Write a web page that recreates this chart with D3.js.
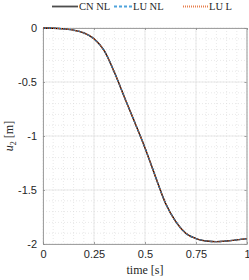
<!DOCTYPE html>
<html>
<head>
<meta charset="utf-8">
<script src="https://cdn.jsdelivr.net/npm/d3@7"></script>
<style>
  body { margin: 0; background: #fff; }
  svg { display: block; }
</style>
</head>
<body>
<div id="chart"></div>
<script>
// time samples and displacement u2
const time = [0, 0.05, 0.1, 0.15, 0.2, 0.25, 0.3, 0.35, 0.4, 0.45, 0.5,
              0.55, 0.6, 0.65, 0.7, 0.75, 0.8, 0.85, 0.9, 0.95, 1.0];
const cnNL = [0, -0.002, -0.008, -0.02, -0.045, -0.1, -0.21, -0.41, -0.645, -0.875, -1.11,
              -1.37, -1.62, -1.79, -1.90, -1.95, -1.972, -1.978, -1.972, -1.962, -1.95];
const luNL = cnNL.slice();
const luL = cnNL.slice();

const seriesNames = ['CN NL', 'LU NL', 'LU L'];
const xTicks = [0, 0.25, 0.5, 0.75, 1];
const xTickLabels = ['0', '0.25', '0.5', '0.75', '1'];
const yTicks = [0, -0.5, -1, -1.5, -2];
const yTickLabels = ['0', '-0.5', '-1', '-1.5', '-2'];

const width = 249, height = 280;
const margin = { top: 28, right: 2, bottom: 36, left: 43 };

const svg = d3.select('#chart').append('svg')
    .attr('width', width)
    .attr('height', height);

const x = d3.scaleLinear().domain([0, 1]).range([margin.left, width - margin.right]);
const y = d3.scaleLinear().domain([-2, 0]).range([height - margin.bottom, margin.top]);

// minor grid (dotted)
const xMinor = d3.range(0, 1.0001, 0.05);
const yMinor = d3.range(-2, 0.0001, 0.1);
svg.append('g').selectAll('line')
    .data(xMinor).enter().append('line')
    .attr('x1', d => x(d)).attr('x2', d => x(d))
    .attr('y1', y(0)).attr('y2', y(-2))
    .style('stroke', '#d9d9d9').style('stroke-width', 0.6)
    .style('stroke-dasharray', '1,2');
svg.append('g').selectAll('line')
    .data(yMinor).enter().append('line')
    .attr('x1', x(0)).attr('x2', x(1))
    .attr('y1', d => y(d)).attr('y2', d => y(d))
    .style('stroke', '#d9d9d9').style('stroke-width', 0.6)
    .style('stroke-dasharray', '1,2');

// major grid
svg.append('g').selectAll('line')
    .data(xTicks).enter().append('line')
    .attr('x1', d => x(d)).attr('x2', d => x(d))
    .attr('y1', y(0)).attr('y2', y(-2))
    .style('stroke', '#e3e3e3').style('stroke-width', 0.8);
svg.append('g').selectAll('line')
    .data(yTicks).enter().append('line')
    .attr('x1', x(0)).attr('x2', x(1))
    .attr('y1', d => y(d)).attr('y2', d => y(d))
    .style('stroke', '#e3e3e3').style('stroke-width', 0.8);

// axes
const tickFont = '"Liberation Sans", Arial, sans-serif';
const xAxis = svg.append('g')
    .attr('transform', `translate(0,${y(-2)})`)
    .call(d3.axisBottom(x).tickValues(xTicks).tickFormat((d, i) => xTickLabels[i])
        .tickSizeInner(-2).tickSizeOuter(0).tickPadding(6));
const yAxis = svg.append('g')
    .attr('transform', `translate(${x(0)},0)`)
    .call(d3.axisLeft(y).tickValues(yTicks).tickFormat((d, i) => yTickLabels[i])
        .tickSizeInner(-2).tickSizeOuter(0).tickPadding(6));
const yAxisR = svg.append('g')
    .attr('transform', `translate(${x(1) - 0.5},0)`)
    .call(d3.axisRight(y).tickValues(yTicks).tickFormat('')
        .tickSizeInner(-2).tickSizeOuter(0));
const xAxisT = svg.append('g')
    .attr('transform', `translate(0,${y(0)})`)
    .call(d3.axisTop(x).tickValues(xTicks).tickFormat('')
        .tickSizeInner(-2).tickSizeOuter(0));

[xAxis, yAxis, yAxisR, xAxisT].forEach(a => {
    a.select('.domain').style('stroke', '#8c8c8c').style('stroke-width', 0.8);
    a.selectAll('.tick line').style('stroke', '#8c8c8c').style('stroke-width', 0.8);
    a.selectAll('text').style('font-family', tickFont).style('font-size', '11px').style('fill', '#262626');
});

// lines
const line = d3.line()
    .x((d, i) => x(time[i]))
    .y(d => y(d))
    .curve(d3.curveMonotoneX);

const styles = [
    { data: cnNL, color: '#000000', legendColor: '#4d4d4d', dash: null, legendDash: null, w: 1.4 },
    { data: luNL, color: '#0072BD', legendColor: '#4fa3dc', dash: '3,2', legendDash: '3,2', w: 1.3 },
    { data: luL, color: '#D95319', legendColor: '#e8804f', dash: '1,1', legendDash: '1,1', w: 1.3 }
];

svg.selectAll('.series')
    .data(styles)
    .enter().append('path')
    .attr('class', 'series')
    .attr('d', d => line(d.data))
    .style('fill', 'none')
    .style('stroke', d => d.color)
    .style('stroke-width', d => d.w)
    .style('stroke-dasharray', d => d.dash);

// legend
const legendX = [52, 114, 183];
const legendLen = [26, 18, 25];
const legend = svg.selectAll('.legend')
    .data(styles)
    .enter().append('g')
    .attr('class', 'legend')
    .attr('transform', (d, i) => `translate(${legendX[i]},6.5)`);
legend.append('line')
    .attr('x1', 0).attr('x2', (d, i) => legendLen[i])
    .attr('y1', 0).attr('y2', 0)
    .style('stroke', d => d.legendColor)
    .style('stroke-width', 1.8)
    .style('stroke-dasharray', d => d.legendDash);
legend.append('text')
    .attr('x', (d, i) => legendLen[i] + 1).attr('y', 0)
    .attr('dy', '0.35em')
    .style('font-family', '"Liberation Serif", serif')
    .style('font-size', '10.5px')
    .style('fill', '#262626')
    .text((d, i) => seriesNames[i]);

// axis labels
svg.append('text')
    .attr('x', x(0.5)).attr('y', 274)
    .style('text-anchor', 'middle')
    .style('font-family', '"Liberation Serif", serif')
    .style('font-size', '12px')
    .style('fill', '#262626')
    .text('time [s]');

const yl = svg.append('text')
    .attr('transform', `translate(13,${y(-1)}) rotate(-90)`)
    .style('text-anchor', 'middle')
    .style('font-family', '"Liberation Serif", serif')
    .style('font-size', '12px')
    .style('fill', '#262626');
yl.append('tspan').style('font-style', 'italic').text('u');
yl.append('tspan').attr('dy', 3).style('font-size', '8px').text('2');
yl.append('tspan').attr('dy', -3).text(' [m]');
</script>
</body>
</html>
